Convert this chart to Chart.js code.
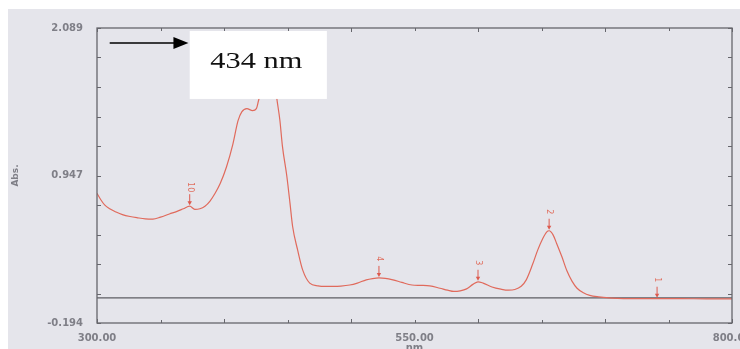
<!DOCTYPE html>
<html><head><meta charset="utf-8">
<style>html,body{margin:0;padding:0;background:#fff;}canvas{display:block;}</style>
<script src="https://cdn.jsdelivr.net/npm/chart.js@4.4.0/dist/chart.umd.min.js"></script>
</head><body>
<canvas id="c" width="740" height="349"></canvas>
<script>
const wavelengths = [300,303,306,310,315,320,326,332,338,344,350,357,363,368,373,377,381,385,389,393,397,402,407,411,414,418,422.5,425.5,427,428.5,431,434,437,439.5,441.5,444,446,449.5,452,454,458,462,467.5,474,480,486,492,499,505,512,517,522,527,533,540,548,555,562,570,576,581,586,591,596,600,604,611,618,624,629,634,638,643,647,651,654,656,659,662,666,670,674,678,683,688,695,703,710,720,740,760,780,800];
const absorbance = [0.81,0.76,0.72,0.69,0.665,0.645,0.63,0.62,0.612,0.61,0.625,0.65,0.67,0.69,0.71,0.685,0.69,0.71,0.75,0.81,0.885,1.015,1.19,1.37,1.44,1.465,1.45,1.465,1.52,1.58,1.72,1.85,1.87,1.72,1.55,1.375,1.175,0.94,0.73,0.555,0.37,0.215,0.115,0.094,0.09,0.09,0.092,0.10,0.115,0.14,0.15,0.155,0.152,0.14,0.12,0.10,0.097,0.093,0.075,0.06,0.05,0.055,0.07,0.105,0.125,0.115,0.085,0.068,0.06,0.065,0.09,0.14,0.26,0.37,0.46,0.51,0.52,0.49,0.42,0.32,0.21,0.13,0.075,0.04,0.02,0.008,0.0,-0.003,-0.005,-0.006,-0.006,-0.007,-0.007];
const baselineNm = [300, 800];
const baselineAbs = [0, 0];
const peakNm = [741, 656, 600, 522, 373];
const peakAbs = [-0.006, 0.52, 0.125, 0.155, 0.71];
const peakLabels = ['1', '2', '3', '4', '10'];
const xTickValues = [300,350,400,450,500,550,600,650,700,750,800];
const xTickLabels = {300: '300.00', 550: '550.00', 800: '800.00'};
const yTickValues = [-0.194,0.0343,0.2626,0.4909,0.7192,0.9475,1.1758,1.4041,1.6324,1.8607,2.089];
const yTickLabels = {0: '-0.194', 5: '0.947', 10: '2.089'};
const annotationText = '434 nm';
const annBox = {nm0: 373, nm1: 481, a0: 1.54, a1: 2.066};
const annArrow = {nm0: 310, nm1: 372, a: 1.973};

const labelColor = '#7f7f87';
const labelFont = {family: 'DejaVu Sans', size: 10, weight: 'bold'};

const decor = {
  id: 'decor',
  beforeDraw(chart) {
    const ctx = chart.ctx;
    ctx.save();
    ctx.fillStyle = '#e5e5eb';
    ctx.fillRect(8, 9, chart.width - 8, chart.height - 9);
    ctx.restore();
  },
  afterDraw(chart) {
    const ctx = chart.ctx, a = chart.chartArea;
    const xs = chart.scales.x, ys = chart.scales.y;
    ctx.save();
    ctx.strokeStyle = '#66666c';
    ctx.lineWidth = 1.3;
    ctx.strokeRect(a.left, a.top, a.right - a.left, a.bottom - a.top);
    ctx.lineWidth = 1;
    ctx.beginPath();
    xTickValues.forEach((v, i) => {
      const px = Math.round(xs.getPixelForValue(v)) + 0.5;
      const L = (i % 2 === 0) ? 4 : 3;
      ctx.moveTo(px, a.bottom); ctx.lineTo(px, a.bottom - L);
      ctx.moveTo(px, a.top); ctx.lineTo(px, a.top + L);
    });
    yTickValues.forEach((v) => {
      const py = Math.round(ys.getPixelForValue(v)) + 0.5;
      ctx.moveTo(a.left, py); ctx.lineTo(a.left + 4, py);
      ctx.moveTo(a.right, py); ctx.lineTo(a.right - 4, py);
    });
    ctx.stroke();
    ctx.strokeStyle = '#dd5a4e';
    ctx.fillStyle = '#dd5a4e';
    peakNm.forEach((nm, i) => {
      const px = xs.getPixelForValue(nm), py = ys.getPixelForValue(peakAbs[i]);
      ctx.lineWidth = 1;
      ctx.beginPath();
      ctx.moveTo(px, py - 12); ctx.lineTo(px, py - 4);
      ctx.stroke();
      ctx.beginPath();
      ctx.moveTo(px - 2.2, py - 5); ctx.lineTo(px + 2.2, py - 5); ctx.lineTo(px, py - 1);
      ctx.closePath(); ctx.fill();
      ctx.save();
      ctx.translate(px, py - 19);
      ctx.rotate(Math.PI / 2);
      ctx.font = '8px "DejaVu Sans"';
      ctx.textAlign = 'center'; ctx.textBaseline = 'middle';
      ctx.fillStyle = '#e07060';
      ctx.fillText(peakLabels[i], 0, 0);
      ctx.restore();
    });
    const bx0 = xs.getPixelForValue(annBox.nm0), bx1 = xs.getPixelForValue(annBox.nm1);
    const by0 = ys.getPixelForValue(annBox.a1), by1 = ys.getPixelForValue(annBox.a0);
    ctx.fillStyle = '#ffffff';
    ctx.fillRect(bx0, by0, bx1 - bx0, by1 - by0);
    ctx.save();
    ctx.fillStyle = '#111';
    ctx.font = '23px "Liberation Serif"';
    ctx.textAlign = 'center'; ctx.textBaseline = 'alphabetic';
    ctx.translate((bx0 + bx1) / 2 - 2, by0 + 37);
    ctx.scale(1.32, 1);
    ctx.fillText(annotationText, 0, 0);
    ctx.restore();
    const ax0 = xs.getPixelForValue(annArrow.nm0), ax1 = xs.getPixelForValue(annArrow.nm1);
    const ay = ys.getPixelForValue(annArrow.a);
    ctx.strokeStyle = '#000'; ctx.fillStyle = '#000';
    ctx.lineWidth = 1.6;
    ctx.beginPath(); ctx.moveTo(ax0, ay); ctx.lineTo(ax1 - 12, ay); ctx.stroke();
    ctx.beginPath();
    ctx.moveTo(ax1 - 15, ay - 6); ctx.lineTo(ax1, ay); ctx.lineTo(ax1 - 15, ay + 6);
    ctx.closePath(); ctx.fill();
    ctx.restore();
  }
};

new Chart(document.getElementById('c'), {
  type: 'line',
  data: {
    datasets: [
      {
        label: 'spectrum',
        data: wavelengths.map((w, i) => ({x: w, y: absorbance[i]})),
        borderColor: '#e06a5c',
        borderWidth: 1.2,
        pointRadius: 0,
        fill: false,
        cubicInterpolationMode: 'monotone',
        order: 1
      },
      {
        label: 'baseline',
        data: baselineNm.map((w, i) => ({x: w, y: baselineAbs[i]})),
        borderColor: '#5d5d63',
        borderWidth: 1.2,
        pointRadius: 0,
        fill: false,
        order: 2
      }
    ]
  },
  options: {
    responsive: false,
    animation: false,
    devicePixelRatio: 1,
    layout: {padding: {top: 28, right: 8, left: 0, bottom: 0}},
    plugins: {legend: {display: false}, tooltip: {enabled: false}},
    scales: {
      x: {
        type: 'linear', min: 300, max: 800,
        afterBuildTicks: s => { s.ticks = xTickValues.map(v => ({value: v})); },
        ticks: {autoSkip: false, maxRotation: 0, minRotation: 0, padding: 1, color: labelColor, font: labelFont,
          callback: v => xTickLabels[v] || ''},
        grid: {display: false},
        border: {display: false},
        title: {display: true, text: 'nm', color: labelColor, font: {family: 'DejaVu Sans', size: 10, weight: 'bold'}, padding: {top: 0, bottom: -5}},
        afterFit: s => { s.height = 26; s.paddingLeft = 0; s.paddingRight = 0; }
      },
      y: {
        type: 'linear', min: -0.194, max: 2.089,
        afterBuildTicks: s => { s.ticks = yTickValues.map(v => ({value: v})); },
        ticks: {autoSkip: false, padding: 6, color: labelColor, font: labelFont,
          callback: (v, i) => yTickLabels[i] || ''},
        grid: {display: false},
        border: {display: false},
        title: {display: true, text: 'Abs.', color: labelColor, font: {family: 'DejaVu Sans', size: 9, weight: 'bold'}, padding: {top: 10, bottom: 0}},
        afterFit: s => { s.width = 97; s.paddingTop = 0; s.paddingBottom = 0; }
      }
    }
  },
  plugins: [decor]
});
</script>
</body></html>
